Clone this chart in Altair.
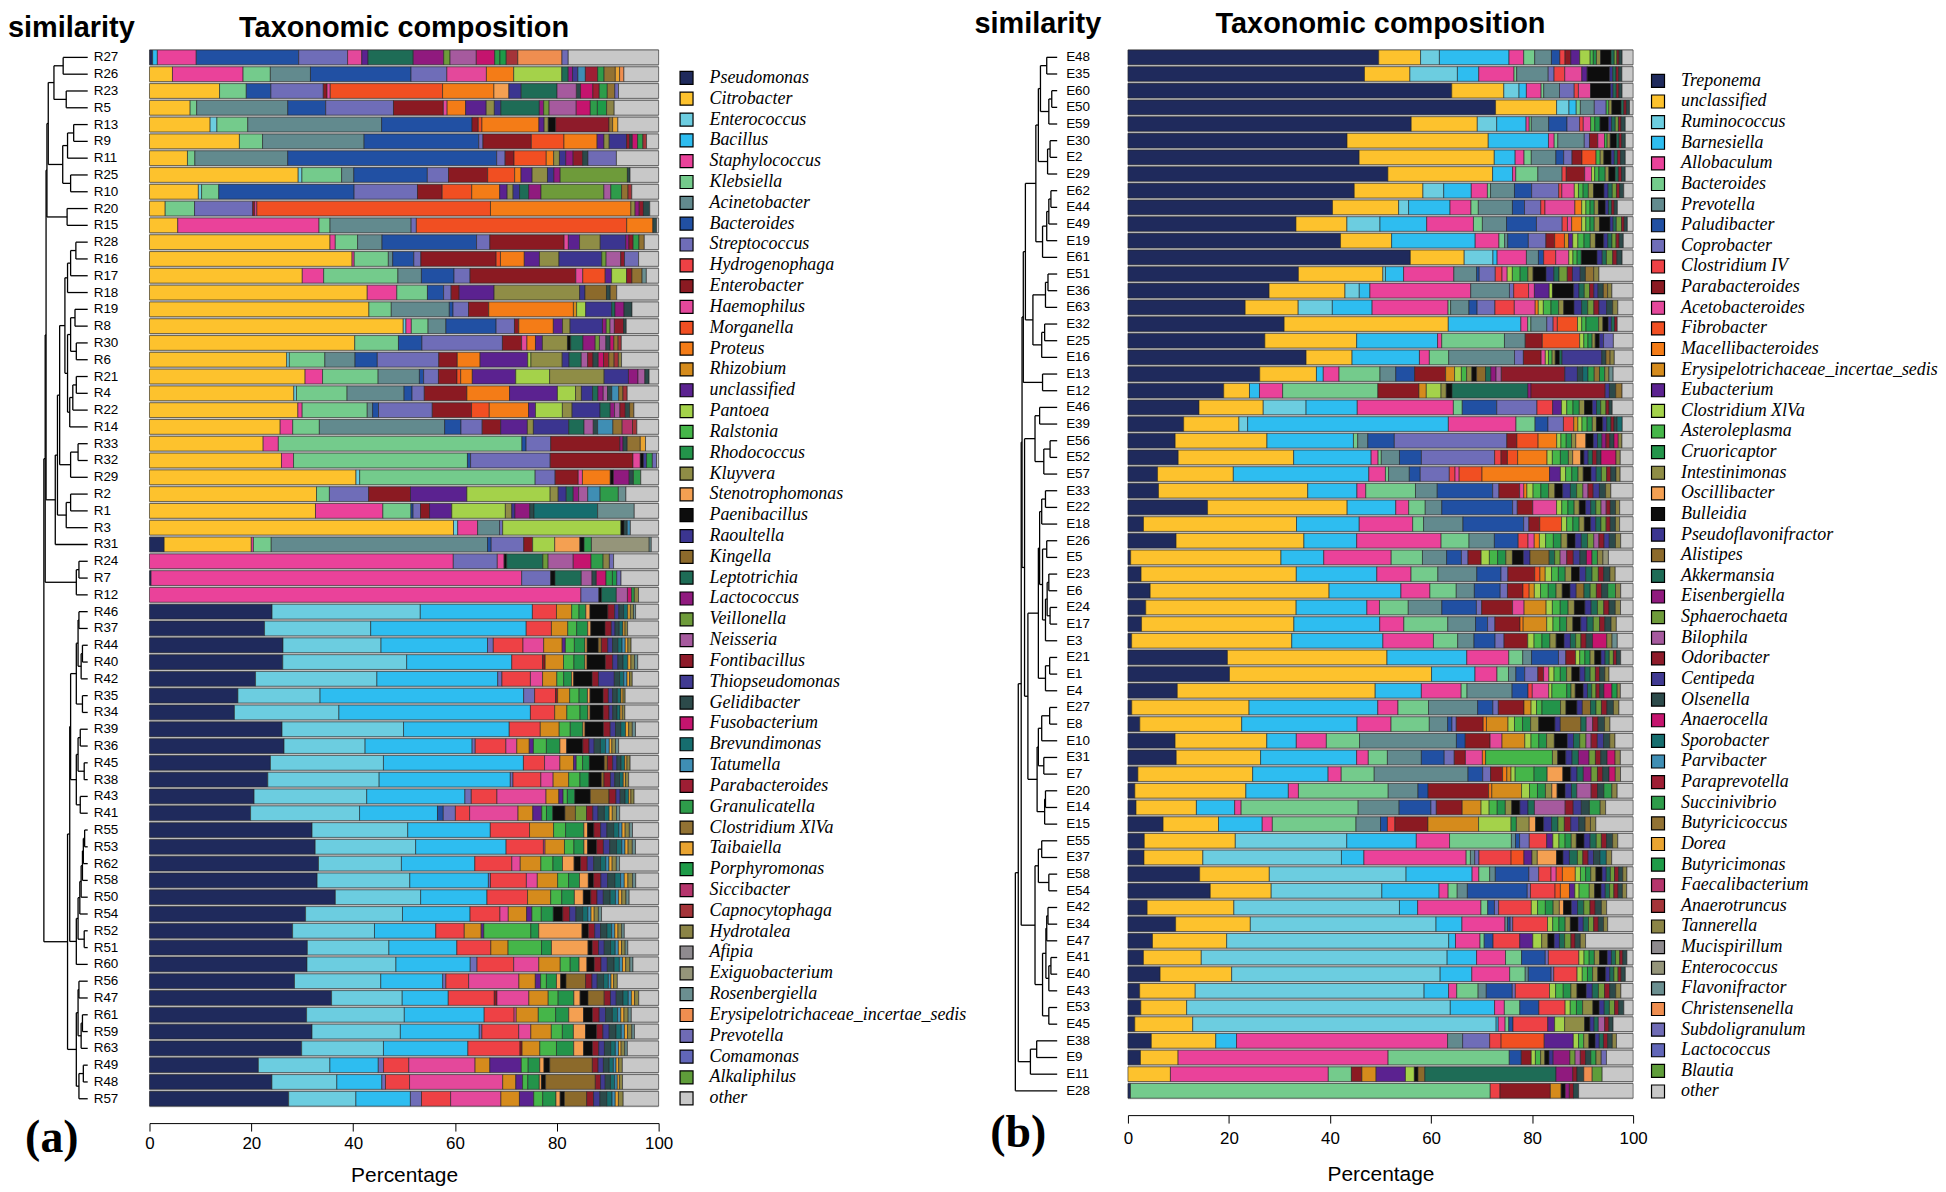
import altair as alt
import pandas as pd

# ---------------- palette shared by both legends (position-based) ----------------
palette = ["#1f2a5c", "#fdc22d", "#6ccde0", "#2ebdf0", "#ea429a", "#74cb8c", "#628a8e", "#2150a3",
           "#6f6db8", "#ee4145", "#8b1a22", "#e4489b", "#f14f22", "#f47c17", "#d58b1c", "#5b2290",
           "#a4d24a", "#45b649", "#23944a", "#8f8d46", "#f4a052", "#0d0d0d", "#3b3590", "#8c6a2b",
           "#1e6c56", "#901a7e", "#6e9b3a", "#a65a9e", "#8e1b2a", "#403a92", "#2c4a4a", "#c5146e",
           "#166d6e", "#3f8eb4", "#9e1e34", "#2e9c4a", "#927233", "#e9a431", "#1e9b48", "#b5356c",
           "#a43439", "#8b8446", "#8e8a8e", "#95957a", "#6b8f90", "#ef8e50", "#6f6bb5", "#6166b8",
           "#5f9d3a", "#c8c8c8"]

# ---------------- panel (a) ----------------
taxa_a = ["Pseudomonas", "Citrobacter", "Enterococcus", "Bacillus", "Staphylococcus", "Klebsiella",
          "Acinetobacter", "Bacteroides", "Streptococcus", "Hydrogenophaga", "Enterobacter", "Haemophilus",
          "Morganella", "Proteus", "Rhizobium", "unclassified", "Pantoea", "Ralstonia", "Rhodococcus",
          "Kluyvera", "Stenotrophomonas", "Paenibacillus", "Raoultella", "Kingella", "Leptotrichia",
          "Lactococcus", "Veillonella", "Neisseria", "Fontibacillus", "Thiopseudomonas", "Gelidibacter",
          "Fusobacterium", "Brevundimonas", "Tatumella", "Parabacteroides", "Granulicatella",
          "Clostridium XlVa", "Taibaiella", "Porphyromonas", "Siccibacter", "Capnocytophaga", "Hydrotalea",
          "Afipia", "Exiguobacterium", "Rosenbergiella", "Erysipelotrichaceae_incertae_sedis", "Prevotella",
          "Comamonas", "Alkaliphilus", "other"]

samples_a = ["R27", "R26", "R23", "R5", "R13", "R9", "R11", "R25", "R10", "R20", "R15", "R28", "R16", "R17",
             "R18", "R19", "R8", "R30", "R6", "R21", "R4", "R22", "R14", "R33", "R32", "R29", "R2", "R1", "R3",
             "R31", "R24", "R7", "R12", "R46", "R37", "R44", "R40", "R42", "R35", "R34", "R39", "R36", "R45",
             "R38", "R43", "R41", "R55", "R53", "R62", "R58", "R50", "R54", "R52", "R51", "R60", "R56", "R47",
             "R61", "R59", "R63", "R49", "R48", "R57"]

comp_a = {
    "R27": {0: 0.6, 3: 0.9, 4: 7.4, 7: 19.5, 8: 9.3, 11: 2.7, 15: 1.2, 24: 8.6, 25: 5.8, 26: 1.2, 27: 5.0, 31: 3.5, 35: 1.0, 38: 1.2, 40: 2.2, 45: 8.4, 46: 1.2, 49: 17.2},
    "R26": {1: 4.3, 4: 13.2, 5: 5.1, 6: 7.5, 7: 18.8, 8: 6.7, 11: 7.4, 13: 5.1, 16: 9.0, 24: 1.2, 25: 0.8, 29: 1.0, 33: 1.4, 34: 2.3, 35: 1.2, 36: 2.1, 37: 0.8, 45: 0.8, 49: 6.5},
    "R23": {1: 13.1, 5: 5.0, 7: 4.6, 8: 9.8, 10: 0.7, 11: 0.6, 12: 21.0, 13: 9.6, 20: 2.8, 22: 2.3, 24: 6.7, 30: 0.8, 27: 3.6, 31: 2.3, 34: 1.2, 35: 1.5, 36: 1.4, 46: 0.7, 49: 7.5},
    "R5": {1: 7.5, 5: 1.2, 6: 16.8, 7: 7.0, 8: 12.5, 10: 9.2, 11: 0.7, 13: 3.4, 15: 3.8, 19: 1.5, 22: 1.2, 24: 7.1, 25: 0.8, 26: 1.0, 27: 5.0, 31: 2.6, 35: 1.3, 38: 1.7, 41: 1.4, 49: 8.2},
    "R13": {1: 11.6, 2: 1.3, 5: 5.9, 6: 25.6, 7: 17.3, 10: 1.2, 12: 0.7, 13: 10.9, 15: 1.0, 19: 0.8, 21: 1.4, 28: 10.2, 36: 0.7, 37: 1.0, 49: 7.8},
    "R9": {1: 17.1, 5: 4.4, 6: 19.3, 7: 21.8, 8: 0.8, 10: 9.2, 12: 6.2, 13: 6.3, 15: 1.3, 19: 1.0, 22: 3.3, 28: 0.6, 30: 0.5, 31: 1.0, 35: 1.0, 40: 0.7, 49: 2.3},
    "R11": {1: 7.2, 5: 1.4, 6: 17.6, 7: 39.6, 8: 1.6, 10: 1.7, 12: 6.1, 13: 1.4, 19: 1.1, 22: 1.2, 25: 1.4, 28: 1.8, 30: 1.0, 46: 5.4, 49: 8.0},
    "R25": {1: 28.1, 2: 0.7, 5: 7.5, 6: 2.3, 7: 13.9, 8: 4.0, 10: 7.4, 12: 5.1, 13: 1.2, 15: 2.1, 19: 2.9, 22: 1.2, 25: 1.2, 26: 12.7, 30: 0.5, 49: 5.4},
    "R10": {1: 9.1, 2: 0.6, 5: 3.2, 7: 25.2, 8: 11.8, 10: 4.6, 12: 5.5, 13: 5.2, 15: 1.4, 19: 1.1, 22: 1.2, 24: 1.7, 25: 2.3, 26: 11.7, 27: 1.3, 35: 2.0, 36: 1.2, 40: 0.7, 49: 5.0},
    "R20": {1: 3.0, 5: 5.6, 8: 11.1, 10: 0.4, 11: 0.4, 12: 44.6, 13: 26.8, 19: 0.8, 25: 0.8, 28: 0.8, 30: 1.2, 49: 1.7},
    "R15": {1: 5.4, 4: 27.0, 5: 2.1, 6: 15.5, 8: 1.0, 12: 40.2, 13: 5.0, 30: 0.7, 49: 0.4},
    "R28": {1: 34.0, 4: 1.0, 5: 4.2, 6: 4.6, 7: 17.8, 8: 2.5, 10: 14.0, 11: 0.8, 15: 2.1, 19: 3.9, 22: 4.8, 25: 0.6, 28: 0.8, 35: 1.1, 36: 1.0, 49: 2.7},
    "R16": {1: 37.4, 4: 0.4, 5: 6.3, 6: 0.8, 7: 3.9, 8: 1.3, 10: 13.9, 12: 0.8, 13: 4.4, 15: 2.8, 19: 3.6, 22: 7.9, 26: 0.8, 27: 2.7, 28: 0.7, 46: 2.6, 49: 3.7},
    "R17": {1: 28.6, 4: 4.0, 5: 13.9, 6: 4.4, 7: 6.1, 8: 3.0, 10: 19.8, 11: 1.3, 12: 4.2, 15: 1.2, 16: 2.8, 28: 1.0, 36: 1.9, 44: 0.8, 49: 2.3},
    "R18": {1: 40.5, 4: 5.5, 5: 5.7, 7: 3.0, 8: 1.4, 10: 1.5, 15: 6.5, 19: 15.9, 22: 1.0, 23: 4.0, 30: 0.7, 36: 1.2, 49: 7.8},
    "R19": {1: 41.2, 5: 4.2, 6: 10.9, 7: 0.7, 8: 2.9, 10: 3.8, 13: 15.9, 14: 0.6, 16: 1.7, 22: 4.9, 24: 0.6, 25: 1.7, 30: 1.5, 49: 5.0},
    "R8": {1: 47.0, 2: 0.5, 4: 1.0, 5: 3.1, 6: 3.3, 7: 9.3, 8: 3.4, 10: 0.8, 13: 6.4, 15: 1.7, 19: 1.4, 22: 6.0, 25: 0.7, 26: 0.7, 27: 0.8, 28: 1.7, 30: 0.5, 49: 6.0},
    "R30": {1: 38.5, 5: 8.2, 7: 4.4, 8: 15.1, 10: 3.6, 11: 1.0, 13: 1.6, 15: 1.3, 19: 4.7, 21: 0.6, 24: 2.3, 25: 2.3, 26: 0.8, 27: 1.2, 30: 0.8, 31: 0.7, 36: 0.8, 40: 0.6, 49: 7.0},
    "R6": {1: 25.9, 2: 0.5, 5: 6.7, 6: 5.7, 7: 4.2, 8: 11.6, 10: 3.5, 13: 4.3, 15: 9.0, 16: 0.6, 19: 5.9, 22: 1.3, 24: 2.3, 27: 1.2, 28: 1.0, 30: 1.0, 31: 1.0, 34: 1.0, 36: 1.0, 40: 0.8, 41: 0.6, 49: 7.0},
    "R21": {1: 29.4, 4: 3.3, 5: 10.5, 6: 7.8, 7: 0.8, 8: 2.8, 10: 3.5, 12: 0.7, 13: 2.2, 15: 8.2, 16: 6.4, 19: 10.3, 22: 4.6, 25: 1.8, 27: 1.3, 30: 0.8, 49: 1.8},
    "R4": {1: 27.1, 2: 0.5, 5: 9.5, 6: 10.7, 7: 1.5, 8: 2.3, 10: 8.0, 13: 8.0, 15: 9.0, 16: 3.4, 19: 1.1, 22: 2.1, 24: 1.0, 25: 1.0, 27: 0.8, 30: 0.8, 33: 1.3, 36: 0.8, 40: 0.8, 49: 5.9},
    "R22": {1: 27.6, 4: 0.8, 5: 12.1, 6: 1.0, 7: 1.1, 8: 10.0, 10: 7.3, 12: 3.3, 13: 7.3, 15: 1.3, 16: 5.0, 19: 1.8, 22: 5.2, 24: 1.9, 25: 0.8, 27: 1.0, 28: 1.0, 30: 0.8, 36: 0.8, 49: 4.6},
    "R14": {1: 24.0, 4: 2.3, 5: 4.9, 6: 23.0, 7: 3.0, 8: 3.9, 10: 3.4, 15: 4.9, 19: 1.1, 22: 6.5, 24: 2.8, 27: 1.7, 30: 0.8, 33: 2.8, 36: 1.7, 39: 1.9, 40: 0.8, 49: 4.0},
    "R33": {1: 21.7, 4: 2.9, 5: 46.5, 7: 0.8, 8: 4.7, 10: 13.2, 25: 0.6, 30: 0.8, 36: 2.5, 37: 1.0, 49: 2.5},
    "R32": {1: 25.2, 4: 2.3, 5: 33.2, 7: 0.6, 8: 15.2, 10: 15.8, 11: 1.4, 21: 0.6, 29: 0.6, 35: 1.1, 46: 0.8, 49: 0.4},
    "R29": {1: 39.3, 2: 0.7, 5: 33.4, 8: 3.8, 10: 4.4, 11: 0.8, 13: 5.3, 21: 0.6, 25: 3.0, 30: 0.8, 35: 1.4, 49: 3.4},
    "R2": {1: 31.1, 5: 2.4, 8: 7.3, 10: 7.8, 15: 10.5, 16: 15.5, 19: 1.5, 22: 1.5, 24: 1.3, 25: 1.0, 27: 1.7, 33: 2.3, 35: 3.4, 44: 1.4, 49: 6.1},
    "R1": {1: 31.3, 4: 12.7, 5: 5.3, 7: 0.4, 8: 1.4, 10: 1.7, 15: 4.2, 16: 10.1, 19: 1.2, 22: 0.6, 25: 2.8, 30: 0.8, 32: 12.0, 44: 6.9, 49: 4.6},
    "R3": {1: 58.1, 2: 0.8, 4: 3.8, 6: 4.2, 8: 0.6, 16: 22.6, 21: 0.6, 30: 0.6, 33: 0.6, 49: 5.4},
    "R31": {0: 2.8, 1: 16.6, 4: 0.4, 5: 3.4, 6: 41.2, 7: 0.7, 8: 6.2, 10: 1.7, 16: 4.2, 20: 4.8, 21: 0.8, 35: 1.4, 43: 11.0, 44: 0.4, 49: 1.4},
    "R24": {4: 58.0, 8: 8.4, 11: 1.3, 21: 0.5, 24: 6.9, 26: 1.0, 27: 4.8, 31: 3.4, 35: 2.3, 41: 1.2, 46: 0.8, 49: 8.6},
    "R7": {0: 0.3, 4: 69.0, 8: 5.4, 21: 0.8, 24: 4.9, 27: 2.0, 30: 0.8, 31: 1.8, 35: 1.2, 38: 0.8, 46: 0.8, 49: 7.0},
    "R12": {4: 81.6, 8: 3.4, 21: 0.5, 24: 2.8, 27: 2.1, 31: 0.8, 35: 0.5, 41: 0.8, 49: 3.8},
    "R46": {0: 23.4, 2: 28.3, 3: 21.4, 9: 4.6, 14: 2.9, 17: 1.4, 18: 1.3, 20: 0.8, 21: 3.4, 28: 1.3, 29: 0.8, 30: 0.9, 32: 0.8, 37: 0.5, 41: 0.6, 44: 0.4, 49: 4.4},
    "R37": {0: 21.9, 2: 20.2, 3: 29.6, 9: 4.8, 14: 3.1, 17: 1.7, 18: 2.1, 20: 0.6, 21: 2.7, 28: 1.2, 29: 0.7, 30: 0.8, 32: 0.7, 37: 0.4, 41: 0.5, 49: 5.9},
    "R44": {0: 25.2, 2: 18.5, 3: 20.1, 8: 1.1, 9: 5.6, 11: 3.9, 14: 3.5, 15: 0.6, 17: 1.7, 18: 2.0, 20: 0.4, 21: 2.1, 23: 0.6, 28: 1.2, 29: 0.9, 30: 1.0, 32: 0.8, 33: 0.6, 37: 0.5, 41: 0.6, 49: 5.2},
    "R40": {0: 25.5, 2: 23.7, 3: 20.1, 9: 5.9, 10: 0.5, 14: 3.5, 17: 2.0, 18: 2.1, 20: 0.4, 21: 3.5, 28: 1.4, 29: 1.0, 30: 1.0, 32: 0.9, 37: 0.6, 41: 0.7, 44: 0.6, 49: 4.0},
    "R42": {0: 20.1, 2: 23.0, 3: 22.9, 8: 0.8, 9: 5.4, 11: 2.3, 14: 2.7, 17: 1.3, 18: 1.5, 20: 0.4, 21: 3.5, 28: 1.2, 29: 3.0, 30: 1.0, 32: 0.8, 33: 0.6, 37: 0.5, 41: 0.5, 49: 5.0},
    "R35": {0: 16.9, 2: 15.7, 3: 38.9, 8: 2.1, 9: 4.0, 10: 0.4, 14: 2.3, 17: 1.8, 18: 1.6, 20: 0.5, 21: 2.5, 28: 1.0, 29: 0.8, 30: 0.9, 32: 0.7, 37: 0.4, 41: 0.4, 49: 6.4},
    "R34": {0: 16.1, 2: 19.8, 3: 36.3, 9: 4.6, 14: 2.3, 17: 2.5, 18: 1.5, 20: 0.4, 21: 2.5, 28: 1.1, 29: 0.7, 30: 0.8, 32: 0.6, 37: 0.4, 41: 0.5, 49: 6.4},
    "R39": {0: 25.2, 2: 23.1, 3: 20.1, 9: 5.9, 14: 3.6, 17: 2.1, 18: 2.4, 20: 0.4, 21: 3.5, 28: 1.3, 29: 1.0, 30: 1.0, 32: 0.9, 37: 0.6, 41: 0.7, 44: 0.6, 49: 4.4},
    "R36": {0: 25.9, 2: 15.6, 3: 20.6, 8: 0.6, 9: 5.9, 11: 2.1, 14: 2.4, 15: 0.8, 17: 2.5, 18: 2.6, 20: 1.3, 21: 3.1, 28: 1.2, 29: 1.0, 30: 1.2, 32: 1.0, 33: 0.7, 37: 0.5, 41: 0.7, 44: 0.6, 49: 7.7},
    "R45": {0: 22.9, 2: 21.4, 3: 26.5, 9: 4.0, 11: 2.9, 14: 2.6, 15: 0.5, 17: 1.2, 18: 1.3, 21: 2.8, 23: 0.6, 28: 1.0, 29: 0.8, 30: 0.8, 32: 0.7, 37: 0.4, 41: 0.6, 49: 5.4},
    "R38": {0: 22.1, 2: 20.8, 3: 24.5, 8: 0.5, 9: 5.2, 11: 2.3, 14: 2.9, 17: 2.1, 18: 1.7, 21: 2.3, 23: 0.5, 28: 1.2, 29: 0.8, 30: 0.9, 32: 0.7, 37: 0.4, 41: 0.6, 49: 5.6},
    "R43": {0: 19.6, 2: 21.1, 3: 18.4, 8: 1.2, 9: 4.8, 11: 9.2, 14: 2.4, 15: 0.8, 17: 0.8, 18: 1.4, 21: 2.9, 23: 3.5, 28: 1.3, 29: 0.8, 30: 0.9, 32: 0.7, 37: 0.4, 41: 0.6, 49: 4.6},
    "R41": {0: 19.2, 2: 20.7, 3: 14.8, 7: 1.1, 8: 2.3, 9: 2.7, 11: 9.2, 14: 2.8, 15: 1.7, 17: 0.9, 18: 1.2, 21: 2.3, 23: 2.0, 26: 2.1, 28: 1.2, 29: 1.0, 30: 1.2, 32: 0.9, 37: 0.6, 41: 0.8, 44: 0.6, 49: 7.4},
    "R55": {0: 31.1, 2: 18.3, 3: 15.8, 9: 7.5, 14: 4.6, 17: 2.3, 18: 3.5, 20: 0.7, 21: 1.2, 28: 1.3, 29: 1.2, 30: 1.3, 32: 1.0, 33: 0.6, 37: 0.6, 41: 0.8, 44: 0.6, 49: 5.0},
    "R53": {0: 31.5, 2: 19.1, 3: 17.2, 9: 7.1, 11: 0.3, 14: 3.7, 17: 1.8, 18: 1.9, 20: 0.7, 21: 1.7, 28: 1.3, 29: 1.2, 30: 1.3, 32: 1.0, 33: 0.6, 37: 0.6, 41: 0.8, 44: 0.6, 49: 4.4},
    "R62": {0: 32.0, 2: 15.7, 3: 13.9, 9: 7.0, 11: 1.6, 14: 3.9, 17: 2.3, 18: 1.8, 20: 2.2, 21: 1.2, 28: 1.3, 29: 1.2, 30: 1.3, 32: 1.0, 33: 0.6, 37: 0.6, 41: 0.8, 44: 0.6, 49: 7.4},
    "R58": {0: 32.2, 2: 17.8, 3: 15.1, 8: 0.4, 9: 6.9, 11: 2.1, 14: 3.9, 17: 2.1, 18: 2.1, 20: 1.7, 21: 1.0, 28: 1.4, 29: 1.3, 30: 1.4, 32: 1.1, 33: 0.7, 37: 0.7, 41: 0.9, 44: 0.6, 49: 4.4},
    "R50": {0: 35.3, 2: 16.2, 3: 12.6, 9: 7.7, 14: 4.4, 17: 2.1, 18: 2.4, 20: 1.7, 21: 1.4, 28: 1.2, 29: 1.2, 30: 1.3, 32: 1.0, 33: 0.6, 37: 0.6, 41: 0.8, 44: 0.6, 49: 5.6},
    "R54": {0: 29.8, 2: 18.5, 3: 12.9, 9: 5.7, 11: 1.6, 14: 3.5, 15: 1.0, 17: 1.8, 18: 2.3, 21: 1.8, 28: 1.3, 29: 1.2, 30: 1.3, 32: 1.0, 33: 0.6, 37: 0.6, 41: 0.8, 44: 0.6, 49: 10.9},
    "R52": {0: 27.1, 2: 15.5, 3: 11.6, 9: 5.4, 14: 3.2, 15: 0.5, 17: 8.9, 18: 1.5, 20: 8.2, 21: 1.2, 28: 1.2, 29: 1.1, 30: 1.2, 32: 0.9, 33: 0.6, 37: 0.6, 41: 0.7, 44: 0.5, 49: 6.5},
    "R51": {0: 30.2, 2: 15.6, 3: 13.0, 9: 6.5, 14: 3.3, 17: 6.4, 18: 1.9, 20: 7.0, 21: 0.8, 28: 1.2, 29: 1.1, 30: 1.2, 32: 0.9, 33: 0.6, 37: 0.6, 41: 0.7, 44: 0.5, 49: 5.9},
    "R60": {0: 30.1, 2: 17.0, 3: 14.2, 8: 1.3, 9: 7.0, 11: 4.8, 14: 4.1, 17: 1.9, 18: 1.7, 20: 1.5, 21: 1.4, 28: 1.3, 29: 1.2, 30: 1.3, 32: 1.0, 33: 0.6, 37: 0.6, 41: 0.8, 44: 0.6, 49: 4.9},
    "R56": {0: 27.4, 2: 16.3, 3: 11.7, 8: 0.6, 9: 4.3, 11: 9.5, 14: 3.1, 15: 1.0, 17: 1.1, 18: 1.9, 20: 0.8, 21: 1.0, 23: 3.7, 28: 1.2, 29: 1.0, 30: 1.2, 32: 0.9, 33: 0.5, 37: 0.5, 41: 0.7, 49: 7.8},
    "R47": {0: 34.8, 2: 13.5, 3: 8.8, 9: 8.8, 10: 0.5, 11: 6.1, 14: 3.7, 17: 1.9, 18: 3.0, 20: 1.2, 21: 1.5, 23: 3.1, 28: 1.2, 29: 1.1, 30: 1.3, 32: 1.0, 33: 0.6, 37: 0.6, 41: 0.8, 49: 3.8},
    "R61": {0: 29.9, 2: 18.6, 3: 15.2, 9: 5.7, 11: 0.4, 14: 4.2, 17: 3.3, 18: 2.5, 20: 2.8, 21: 1.7, 28: 1.3, 29: 1.2, 30: 1.3, 32: 1.0, 33: 0.6, 37: 0.6, 41: 0.8, 44: 0.6, 49: 5.2},
    "R59": {0: 30.9, 2: 16.8, 3: 15.0, 8: 0.5, 9: 7.0, 11: 2.3, 14: 3.9, 17: 2.1, 18: 2.1, 20: 2.3, 21: 2.1, 28: 1.2, 29: 1.2, 30: 1.3, 32: 1.0, 33: 0.6, 37: 0.6, 41: 0.8, 44: 0.5, 49: 4.6},
    "R63": {0: 29.2, 2: 15.7, 3: 16.2, 9: 10.0, 10: 0.4, 14: 3.4, 17: 3.2, 18: 3.3, 20: 1.9, 21: 1.7, 28: 1.2, 29: 1.1, 30: 1.2, 32: 0.9, 33: 0.6, 37: 0.5, 41: 0.7, 44: 0.5, 49: 6.0},
    "R49": {0: 20.7, 2: 13.6, 3: 9.2, 8: 1.0, 9: 4.8, 11: 12.6, 14: 2.8, 15: 6.0, 17: 1.3, 18: 2.2, 20: 0.8, 21: 1.1, 23: 8.1, 28: 1.1, 29: 1.0, 30: 1.1, 32: 0.8, 33: 0.5, 37: 0.5, 41: 0.7, 49: 6.9},
    "R48": {0: 23.4, 2: 12.4, 3: 8.6, 8: 0.7, 9: 4.6, 11: 17.8, 14: 2.5, 15: 1.3, 17: 1.0, 18: 2.2, 20: 0.4, 21: 0.8, 23: 9.5, 28: 1.0, 29: 0.9, 30: 1.0, 32: 0.8, 33: 0.5, 37: 0.4, 41: 0.6, 49: 6.9},
    "R57": {0: 26.3, 2: 12.7, 3: 10.3, 8: 2.1, 9: 5.5, 11: 9.5, 14: 3.5, 15: 2.7, 17: 1.7, 18: 2.5, 20: 0.8, 21: 0.8, 23: 4.2, 28: 1.3, 29: 1.2, 30: 1.3, 32: 1.0, 33: 0.6, 37: 0.6, 41: 0.9, 49: 6.7},
}

# dendrogram (a): (child, child, merge height, node name); height 0 = leaves, 1 = root
merges_a = [
    ("R27", "R26", 0.56, "a1"), ("R23", "R5", 0.49, "a2"), ("a1", "a2", 0.77, "a3"),
    ("R13", "R9", 0.32, "a4"), ("a4", "R11", 0.46, "a5"), ("R25", "R10", 0.39, "a6"),
    ("a5", "a6", 0.57, "a7"), ("a3", "a7", 0.90, "a8"), ("R20", "R15", 0.47, "a9"),
    ("a8", "a9", 0.93, "a10"), ("R28", "R16", 0.27, "a11"), ("a11", "R17", 0.39, "a12"),
    ("a12", "R18", 0.46, "a13"), ("R19", "R8", 0.29, "a14"), ("R30", "R6", 0.26, "a15"),
    ("a14", "a15", 0.39, "a16"), ("R21", "R4", 0.26, "a17"), ("a17", "R22", 0.34, "a18"),
    ("a18", "R14", 0.41, "a19"), ("a16", "a19", 0.46, "a20"), ("a13", "a20", 0.52, "a21"),
    ("R33", "R32", 0.22, "a22"), ("a22", "R29", 0.39, "a23"), ("a21", "a23", 0.64, "a24"),
    ("R2", "R1", 0.39, "a25"), ("a25", "R3", 0.49, "a26"), ("a24", "a26", 0.69, "a27"),
    ("a27", "R31", 0.74, "a28"), ("a10", "a28", 0.95, "a29"), ("R24", "R7", 0.20, "a30"),
    ("a30", "R12", 0.26, "a31"), ("a29", "a31", 0.97, "a32"),
    ("R46", "R37", 0.20, "p1"), ("R44", "R40", 0.12, "p2"), ("p2", "R42", 0.15, "p3"),
    ("p1", "p3", 0.22, "p4"), ("R35", "R34", 0.12, "p5"), ("p4", "p5", 0.26, "p6"),
    ("R39", "R36", 0.17, "p7"), ("R45", "R38", 0.08, "p8"), ("p7", "p8", 0.22, "p9"),
    ("R43", "R41", 0.17, "p10"), ("p9", "p10", 0.26, "p11"), ("p6", "p11", 0.39, "p12"),
    ("R55", "R53", 0.07, "p13"), ("p13", "R62", 0.10, "p14"), ("p14", "R58", 0.12, "p15"),
    ("p15", "R50", 0.15, "p16"), ("p16", "R54", 0.18, "p17"), ("R52", "R51", 0.08, "p18"),
    ("p17", "p18", 0.22, "p19"), ("p19", "R60", 0.26, "p20"), ("R56", "R47", 0.20, "p21"),
    ("R61", "R59", 0.12, "p22"), ("p22", "R63", 0.15, "p23"), ("p21", "p23", 0.22, "p24"),
    ("R49", "R48", 0.10, "p25"), ("p25", "R57", 0.20, "p26"), ("p24", "p26", 0.26, "p27"),
    ("p12", "p20", 0.41, "q1"), ("q1", "p27", 0.46, "p29"), ("a32", "p29", 1.00, "root"),
]

# ---------------- panel (b) ----------------
taxa_b = ["Treponema", "unclassified", "Ruminococcus", "Barnesiella", "Allobaculum", "Bacteroides",
          "Prevotella", "Paludibacter", "Coprobacter", "Clostridium IV", "Parabacteroides",
          "Acetobacteroides", "Fibrobacter", "Macellibacteroides", "Erysipelotrichaceae_incertae_sedis",
          "Eubacterium", "Clostridium XlVa", "Asteroleplasma", "Cruoricaptor", "Intestinimonas",
          "Oscillibacter", "Bulleidia", "Pseudoflavonifractor", "Alistipes", "Akkermansia", "Eisenbergiella",
          "Sphaerochaeta", "Bilophila", "Odoribacter", "Centipeda", "Olsenella", "Anaerocella", "Sporobacter",
          "Parvibacter", "Paraprevotella", "Succinivibrio", "Butyricicoccus", "Dorea", "Butyricimonas",
          "Faecalibacterium", "Anaerotruncus", "Tannerella", "Mucispirillum", "Enterococcus",
          "Flavonifractor", "Christensenella", "Subdoligranulum", "Lactococcus", "Blautia", "other"]

samples_b = ["E48", "E35", "E60", "E50", "E59", "E30", "E2", "E29", "E62", "E44", "E49", "E19", "E61", "E51",
             "E36", "E63", "E32", "E25", "E16", "E13", "E12", "E46", "E39", "E56", "E52", "E57", "E33", "E22",
             "E18", "E26", "E5", "E23", "E6", "E24", "E17", "E3", "E21", "E1", "E4", "E27", "E8", "E10", "E31",
             "E7", "E20", "E14", "E15", "E55", "E37", "E58", "E54", "E42", "E34", "E47", "E41", "E40", "E43",
             "E53", "E45", "E38", "E9", "E11", "E28"]

comp_b = {
    "E48": {0: 47.9, 1: 8.0, 2: 3.6, 3: 13.3, 4: 2.8, 5: 2.1, 6: 3.2, 7: 1.6, 9: 1.0, 10: 1.1, 15: 1.7, 16: 2.0, 17: 0.6, 18: 0.6, 19: 0.8, 21: 2.0, 24: 0.6, 26: 0.5, 28: 0.4, 30: 0.6, 49: 2.1},
    "E35": {0: 44.3, 1: 8.5, 2: 8.9, 3: 4.0, 4: 6.6, 5: 0.5, 6: 5.9, 8: 1.1, 9: 2.0, 11: 3.2, 15: 1.0, 21: 4.2, 22: 0.6, 24: 0.6, 28: 0.5, 30: 0.6, 49: 2.1},
    "E60": {0: 61.6, 1: 9.9, 2: 2.9, 3: 1.4, 4: 2.8, 5: 0.5, 6: 3.0, 8: 2.8, 9: 0.8, 11: 2.3, 21: 3.8, 22: 0.5, 24: 0.6, 28: 0.5, 30: 0.6, 49: 2.1},
    "E50": {0: 71.1, 1: 11.8, 2: 2.4, 3: 1.4, 5: 0.8, 6: 2.7, 8: 2.3, 17: 0.5, 19: 0.6, 21: 1.8, 24: 0.5, 28: 0.5, 30: 0.6, 49: 0.7},
    "E59": {0: 54.0, 1: 12.6, 2: 3.7, 3: 5.6, 4: 0.6, 5: 0.4, 6: 3.3, 7: 3.5, 8: 2.4, 9: 0.7, 11: 1.4, 17: 0.8, 18: 1.0, 21: 1.6, 22: 0.6, 24: 0.7, 26: 0.6, 28: 0.5, 30: 0.8, 49: 1.5},
    "E30": {0: 42.2, 1: 27.2, 3: 11.6, 4: 1.1, 5: 0.7, 6: 5.1, 8: 1.0, 10: 1.6, 11: 1.3, 17: 0.5, 19: 0.6, 21: 1.2, 24: 0.5, 28: 0.5, 30: 0.7, 49: 1.5},
    "E2": {0: 44.3, 1: 25.9, 3: 4.0, 4: 1.7, 5: 1.4, 6: 4.7, 7: 1.5, 8: 1.6, 10: 1.9, 12: 2.7, 17: 0.8, 19: 0.7, 21: 1.4, 22: 0.6, 24: 0.6, 28: 0.6, 30: 0.9, 49: 1.5},
    "E29": {0: 49.4, 1: 19.9, 3: 3.8, 4: 0.6, 5: 4.2, 6: 4.6, 9: 0.8, 10: 3.5, 11: 1.3, 16: 0.6, 17: 0.8, 18: 1.2, 19: 0.7, 21: 1.2, 24: 0.6, 28: 0.6, 30: 0.7, 49: 1.5},
    "E62": {0: 43.5, 1: 13.2, 2: 4.0, 3: 5.3, 4: 3.1, 5: 0.6, 6: 4.6, 7: 3.3, 8: 5.2, 9: 0.6, 11: 2.4, 16: 0.8, 17: 0.9, 18: 1.0, 19: 1.0, 21: 2.0, 22: 0.8, 24: 0.8, 26: 0.8, 28: 0.6, 30: 0.8, 49: 1.8},
    "E44": {0: 39.0, 1: 12.6, 2: 1.9, 3: 7.9, 4: 4.0, 5: 1.4, 6: 6.5, 7: 2.3, 8: 3.1, 9: 0.8, 11: 5.7, 13: 1.3, 16: 0.8, 17: 0.8, 18: 0.8, 19: 0.8, 21: 1.3, 22: 0.6, 24: 0.6, 28: 0.5, 30: 0.6, 49: 3.0},
    "E49": {0: 32.0, 1: 9.7, 2: 6.3, 3: 8.9, 4: 8.9, 5: 1.7, 6: 4.6, 7: 5.7, 8: 4.9, 9: 1.0, 11: 0.8, 13: 1.9, 16: 0.8, 17: 0.8, 18: 0.8, 19: 1.0, 21: 2.0, 22: 0.6, 24: 0.6, 26: 1.0, 28: 0.5, 30: 0.6, 49: 1.1},
    "E19": {0: 41.2, 1: 9.9, 3: 16.2, 4: 4.6, 5: 1.1, 6: 0.6, 7: 4.0, 8: 3.4, 10: 1.7, 12: 1.9, 14: 0.8, 15: 0.8, 16: 1.0, 17: 1.2, 18: 1.2, 19: 1.0, 21: 1.6, 22: 0.8, 24: 0.8, 26: 0.8, 28: 0.6, 30: 0.8, 49: 1.9},
    "E61": {0: 54.0, 1: 10.3, 2: 5.5, 3: 0.8, 4: 5.6, 6: 2.3, 7: 1.0, 9: 2.3, 11: 2.5, 16: 0.8, 17: 0.8, 18: 0.8, 21: 3.0, 22: 1.0, 24: 0.8, 26: 1.2, 28: 0.8, 30: 1.0, 49: 2.1},
    "E51": {0: 32.9, 1: 16.3, 2: 0.5, 3: 3.5, 4: 9.7, 6: 4.4, 7: 0.5, 8: 3.1, 9: 1.3, 11: 1.0, 16: 1.0, 17: 1.5, 18: 1.5, 19: 1.0, 21: 2.5, 22: 1.5, 24: 1.0, 26: 1.6, 28: 1.0, 29: 1.5, 30: 1.0, 36: 1.6, 41: 1.0, 49: 6.6},
    "E36": {0: 26.6, 1: 14.3, 2: 2.7, 3: 2.0, 4: 19.0, 6: 7.3, 8: 0.8, 9: 2.8, 11: 1.1, 15: 2.8, 16: 0.6, 21: 4.0, 22: 1.0, 24: 1.0, 26: 1.0, 28: 0.8, 29: 0.8, 30: 1.0, 36: 0.8, 41: 0.8, 49: 4.0},
    "E63": {0: 23.0, 1: 10.4, 2: 6.7, 3: 7.8, 4: 14.9, 5: 0.5, 6: 3.6, 7: 1.6, 8: 3.5, 9: 3.8, 11: 4.1, 13: 0.6, 16: 1.0, 17: 1.5, 18: 1.5, 19: 1.0, 21: 2.0, 22: 1.5, 24: 1.2, 26: 1.2, 28: 1.0, 29: 1.5, 30: 1.2, 41: 1.0, 49: 3.0},
    "E32": {0: 29.5, 1: 31.0, 3: 13.7, 4: 1.3, 5: 0.6, 6: 3.0, 8: 1.2, 9: 0.8, 12: 3.8, 16: 0.8, 17: 0.8, 18: 2.4, 19: 0.8, 21: 1.0, 22: 0.6, 24: 0.6, 28: 0.5, 49: 3.0},
    "E25": {0: 26.4, 1: 17.7, 3: 15.6, 4: 0.8, 5: 12.1, 6: 4.0, 10: 3.3, 12: 7.2, 16: 0.8, 17: 0.8, 18: 0.8, 19: 0.6, 21: 0.8, 22: 0.8, 46: 1.9, 49: 3.8},
    "E16": {0: 34.1, 1: 8.8, 3: 12.9, 4: 1.9, 5: 3.7, 6: 12.6, 8: 1.7, 10: 3.4, 11: 0.8, 16: 0.6, 17: 0.7, 19: 0.6, 21: 0.8, 24: 0.5, 29: 7.6, 30: 0.8, 36: 0.8, 41: 0.8, 49: 3.6},
    "E13": {0: 25.1, 1: 10.8, 3: 1.3, 4: 3.0, 5: 7.8, 6: 3.0, 7: 3.6, 10: 5.9, 14: 1.7, 16: 1.3, 17: 1.0, 19: 1.0, 21: 0.9, 23: 1.7, 24: 1.0, 25: 1.0, 27: 1.0, 28: 12.1, 29: 2.4, 30: 1.0, 32: 1.0, 35: 1.2, 36: 1.0, 38: 1.0, 41: 0.8, 44: 0.8, 49: 3.8},
    "E12": {0: 18.2, 1: 4.9, 3: 1.9, 4: 4.4, 5: 18.1, 10: 7.8, 14: 1.4, 16: 2.8, 19: 1.0, 21: 1.1, 24: 14.4, 25: 0.6, 28: 14.1, 29: 0.8, 30: 1.2, 36: 1.2, 49: 2.1},
    "E46": {0: 13.6, 1: 12.3, 2: 8.2, 3: 9.8, 4: 18.4, 5: 1.7, 7: 6.6, 8: 7.7, 9: 3.0, 15: 1.7, 16: 1.0, 17: 1.2, 18: 1.2, 19: 1.0, 21: 1.5, 22: 0.8, 24: 0.8, 26: 1.0, 28: 0.6, 30: 0.6, 49: 4.0},
    "E39": {0: 10.8, 1: 10.7, 2: 1.7, 3: 38.9, 4: 13.1, 5: 3.7, 7: 2.5, 8: 3.0, 9: 2.0, 14: 0.8, 16: 0.8, 17: 1.0, 18: 1.0, 19: 0.8, 21: 1.2, 22: 0.8, 24: 0.8, 28: 0.6, 30: 0.6, 32: 1.0, 49: 2.1},
    "E56": {0: 8.9, 1: 17.3, 3: 16.3, 5: 0.8, 6: 1.9, 7: 5.0, 8: 21.2, 10: 1.9, 12: 4.0, 13: 3.5, 16: 0.8, 17: 1.0, 18: 1.0, 19: 0.8, 20: 1.9, 21: 1.4, 22: 0.8, 24: 0.8, 25: 0.8, 28: 0.7, 30: 0.8, 31: 0.8, 41: 0.7, 49: 2.1},
    "E52": {0: 9.4, 1: 21.6, 3: 14.5, 4: 1.3, 5: 0.6, 6: 3.4, 7: 4.1, 8: 13.7, 9: 1.2, 10: 1.2, 12: 1.9, 13: 5.5, 16: 1.0, 17: 1.5, 18: 1.5, 19: 0.8, 20: 1.5, 21: 0.6, 22: 0.8, 24: 0.8, 28: 0.8, 30: 0.8, 31: 2.8, 41: 0.8, 49: 2.4},
    "E57": {0: 5.7, 1: 14.6, 3: 26.1, 4: 3.2, 5: 0.6, 6: 4.0, 7: 2.1, 8: 5.6, 9: 1.1, 11: 0.8, 12: 4.4, 13: 13.0, 15: 2.1, 16: 1.0, 17: 1.2, 18: 1.2, 19: 1.0, 21: 1.5, 22: 1.0, 24: 1.0, 26: 1.0, 28: 0.8, 30: 1.0, 41: 0.8, 49: 2.5},
    "E33": {0: 5.9, 1: 28.8, 3: 9.5, 4: 1.7, 5: 9.6, 6: 4.2, 7: 10.7, 8: 1.2, 10: 4.0, 11: 0.8, 13: 0.6, 16: 1.2, 17: 1.5, 18: 1.5, 19: 1.2, 21: 1.5, 22: 1.5, 24: 1.2, 26: 1.2, 27: 1.0, 28: 1.0, 29: 1.2, 30: 1.2, 41: 1.0, 49: 4.3},
    "E22": {0: 15.4, 1: 27.0, 3: 9.4, 4: 2.5, 5: 3.2, 6: 3.2, 7: 13.7, 8: 0.9, 10: 3.0, 11: 4.6, 16: 1.0, 17: 1.2, 18: 1.2, 19: 1.0, 21: 1.2, 22: 1.0, 24: 1.0, 26: 1.0, 27: 1.0, 28: 0.8, 30: 1.0, 41: 0.8, 49: 2.6},
    "E18": {0: 3.0, 1: 29.5, 3: 12.1, 4: 10.3, 5: 2.1, 6: 7.6, 7: 11.7, 8: 1.0, 10: 2.1, 12: 4.2, 16: 1.0, 17: 1.2, 18: 1.2, 19: 1.0, 21: 1.2, 22: 1.0, 24: 1.0, 26: 1.0, 28: 0.8, 30: 1.0, 41: 0.8, 49: 2.6},
    "E26": {0: 9.3, 1: 24.7, 3: 10.2, 4: 16.3, 5: 5.4, 6: 4.9, 7: 4.6, 9: 1.9, 11: 1.2, 13: 1.0, 16: 1.2, 17: 1.5, 18: 1.5, 19: 1.2, 21: 1.5, 22: 1.2, 24: 1.2, 26: 1.2, 27: 1.0, 28: 1.0, 29: 1.0, 30: 1.2, 41: 1.0, 49: 2.4},
    "E5": {0: 0.5, 1: 27.4, 3: 7.8, 4: 12.3, 5: 5.7, 6: 4.4, 7: 2.7, 8: 1.2, 10: 2.4, 16: 1.5, 17: 1.5, 18: 1.5, 19: 1.2, 21: 2.0, 22: 1.2, 23: 3.5, 24: 1.0, 26: 1.0, 27: 1.2, 28: 1.2, 29: 1.2, 30: 1.2, 31: 1.0, 35: 1.0, 41: 1.0, 43: 1.0, 49: 4.5},
    "E23": {0: 2.5, 1: 29.5, 3: 15.3, 4: 6.5, 5: 5.1, 6: 7.4, 7: 4.6, 8: 1.3, 10: 5.1, 12: 1.0, 14: 1.0, 16: 1.2, 17: 1.3, 18: 1.3, 19: 1.2, 21: 1.5, 22: 1.2, 24: 1.2, 26: 1.2, 28: 1.0, 30: 1.2, 41: 1.0, 49: 3.4},
    "E6": {0: 4.3, 1: 34.6, 3: 13.9, 4: 5.6, 5: 5.1, 6: 3.5, 7: 5.0, 8: 1.4, 10: 3.0, 12: 1.2, 14: 1.0, 16: 1.2, 17: 1.5, 18: 1.5, 19: 1.2, 21: 1.5, 22: 1.2, 23: 1.5, 24: 1.2, 26: 1.2, 28: 1.0, 30: 1.2, 35: 1.5, 41: 1.0, 49: 2.4},
    "E24": {0: 3.4, 1: 28.7, 3: 13.5, 4: 2.4, 5: 5.5, 6: 6.4, 7: 6.6, 8: 1.0, 10: 5.9, 11: 2.2, 14: 4.2, 16: 1.2, 17: 1.5, 18: 1.5, 19: 1.2, 21: 2.0, 22: 1.2, 24: 1.2, 26: 1.2, 28: 1.0, 30: 1.2, 41: 1.0, 49: 2.4},
    "E17": {0: 2.6, 1: 29.1, 3: 16.4, 4: 4.6, 5: 8.4, 6: 5.3, 7: 2.3, 8: 1.4, 10: 4.8, 13: 0.6, 14: 4.5, 16: 1.2, 17: 1.3, 18: 1.3, 19: 1.2, 21: 1.5, 22: 1.2, 24: 1.2, 26: 1.2, 28: 1.0, 30: 1.2, 41: 1.0, 49: 3.2},
    "E3": {0: 0.7, 1: 30.4, 3: 17.3, 4: 9.6, 5: 4.6, 6: 3.1, 7: 4.0, 8: 1.7, 10: 4.5, 16: 1.2, 17: 1.5, 18: 1.5, 19: 1.2, 21: 1.5, 22: 1.2, 24: 1.0, 26: 1.0, 28: 1.0, 30: 1.2, 31: 2.7, 41: 1.0, 44: 1.0, 49: 3.0},
    "E21": {0: 19.2, 1: 30.8, 3: 15.4, 4: 8.1, 5: 2.7, 6: 1.7, 7: 5.2, 8: 1.4, 10: 1.9, 16: 0.8, 17: 1.0, 18: 1.0, 19: 0.9, 21: 1.2, 22: 0.8, 24: 0.8, 26: 0.8, 28: 0.6, 30: 0.8, 49: 2.4},
    "E1": {0: 19.4, 1: 38.6, 3: 8.3, 4: 4.2, 5: 2.2, 6: 1.4, 7: 1.7, 8: 2.5, 10: 1.1, 11: 1.0, 16: 1.0, 17: 1.2, 18: 1.2, 19: 1.0, 21: 1.5, 22: 1.0, 24: 1.0, 26: 1.0, 28: 0.8, 30: 1.0, 41: 0.8, 49: 4.6},
    "E4": {0: 9.3, 1: 37.3, 3: 8.7, 4: 7.5, 5: 1.1, 6: 8.5, 7: 3.0, 9: 0.8, 11: 3.1, 16: 0.6, 17: 2.8, 18: 0.8, 19: 0.8, 21: 1.5, 22: 0.8, 24: 0.8, 26: 0.8, 28: 0.7, 30: 0.8, 31: 1.5, 38: 1.0, 41: 0.6, 49: 2.4},
    "E27": {0: 0.7, 1: 21.5, 3: 23.6, 4: 3.7, 5: 5.6, 6: 9.0, 7: 2.8, 8: 1.0, 10: 4.7, 14: 1.3, 16: 1.0, 17: 1.0, 18: 3.4, 19: 1.0, 21: 2.0, 22: 1.0, 23: 1.5, 24: 1.0, 26: 1.0, 28: 1.0, 30: 1.2, 41: 1.0, 49: 2.6},
    "E8": {0: 2.2, 1: 18.9, 3: 21.4, 4: 6.3, 5: 7.1, 6: 3.4, 7: 0.8, 8: 0.8, 10: 5.0, 13: 0.6, 14: 4.0, 16: 1.2, 17: 1.5, 18: 1.5, 19: 1.5, 21: 3.0, 22: 1.0, 23: 3.8, 24: 1.0, 27: 1.2, 28: 1.0, 30: 1.2, 41: 1.0, 49: 4.3},
    "E10": {0: 9.1, 1: 17.7, 3: 5.7, 4: 5.8, 5: 6.4, 6: 18.7, 7: 1.7, 10: 4.8, 11: 2.3, 14: 4.4, 16: 1.2, 17: 1.5, 18: 1.5, 19: 1.5, 21: 2.5, 22: 1.2, 24: 1.2, 26: 1.2, 27: 1.0, 28: 1.2, 29: 1.2, 30: 1.2, 41: 1.0, 49: 3.5},
    "E31": {0: 9.1, 1: 15.9, 3: 18.1, 4: 2.2, 5: 3.6, 6: 6.4, 7: 4.3, 8: 1.9, 10: 2.1, 11: 3.2, 13: 0.6, 17: 12.6, 19: 1.0, 21: 1.5, 22: 1.2, 24: 1.2, 25: 2.0, 26: 1.2, 28: 1.0, 30: 1.2, 31: 1.5, 41: 1.0, 49: 2.4},
    "E7": {0: 1.9, 1: 21.9, 3: 14.4, 4: 2.5, 5: 6.3, 6: 17.9, 7: 2.8, 8: 1.5, 10: 2.3, 13: 0.8, 14: 0.8, 16: 0.8, 17: 3.6, 18: 2.5, 20: 3.0, 21: 1.5, 22: 1.2, 24: 1.2, 25: 1.5, 26: 1.2, 28: 1.0, 30: 1.2, 31: 1.2, 41: 1.0, 49: 2.4},
    "E20": {0: 1.3, 1: 20.9, 3: 8.0, 4: 1.9, 5: 16.9, 6: 5.6, 7: 1.9, 10: 11.4, 13: 0.6, 14: 5.6, 16: 1.5, 17: 1.5, 18: 1.5, 19: 1.2, 20: 1.0, 21: 1.5, 22: 1.2, 24: 1.0, 27: 2.7, 28: 1.2, 30: 1.2, 35: 1.5, 41: 1.0, 49: 3.0},
    "E14": {0: 1.5, 1: 11.2, 3: 7.1, 4: 1.2, 5: 21.7, 6: 7.6, 7: 5.9, 8: 1.0, 10: 4.8, 14: 3.5, 16: 1.5, 17: 1.5, 18: 1.5, 19: 1.2, 21: 1.5, 22: 1.5, 24: 1.2, 27: 5.7, 28: 1.5, 29: 1.5, 30: 1.5, 35: 2.0, 41: 1.0, 49: 5.1},
    "E15": {0: 6.6, 1: 10.4, 3: 8.2, 4: 1.9, 5: 15.7, 6: 4.6, 7: 1.3, 9: 1.4, 10: 6.2, 14: 9.5, 16: 6.1, 18: 1.0, 19: 2.4, 20: 1.2, 21: 1.5, 22: 1.5, 24: 1.2, 26: 1.2, 28: 1.2, 29: 1.5, 30: 1.2, 36: 1.0, 41: 1.0, 49: 7.0},
    "E55": {0: 3.2, 1: 17.8, 2: 21.8, 3: 13.6, 4: 6.5, 5: 12.1, 6: 0.8, 7: 0.8, 8: 1.9, 9: 3.4, 15: 1.2, 16: 1.2, 17: 1.2, 18: 1.2, 19: 1.0, 21: 1.5, 22: 1.2, 24: 1.2, 26: 1.0, 28: 1.0, 30: 1.2, 41: 1.0, 49: 3.0},
    "E37": {0: 3.0, 1: 11.0, 2: 25.9, 3: 4.2, 4: 19.1, 5: 0.8, 6: 0.8, 8: 0.8, 9: 6.0, 12: 2.4, 15: 1.5, 19: 1.0, 20: 3.6, 21: 1.2, 22: 1.2, 24: 1.5, 26: 1.0, 28: 1.0, 29: 1.0, 30: 1.2, 32: 1.2, 41: 1.0, 49: 4.0},
    "E58": {0: 13.9, 1: 13.5, 2: 26.5, 3: 12.8, 4: 1.3, 5: 2.1, 6: 1.1, 7: 6.5, 8: 1.9, 9: 2.4, 11: 1.0, 12: 1.2, 13: 2.5, 16: 1.0, 17: 1.0, 18: 1.0, 19: 1.0, 21: 1.2, 22: 0.8, 24: 0.8, 26: 0.8, 28: 0.8, 30: 0.8, 41: 0.8, 49: 1.2},
    "E54": {0: 15.4, 1: 11.4, 2: 20.7, 3: 10.7, 4: 1.7, 5: 1.7, 6: 1.9, 7: 11.2, 8: 0.6, 9: 4.6, 12: 1.0, 13: 1.7, 15: 1.0, 16: 0.8, 17: 1.9, 19: 1.0, 21: 1.2, 22: 0.8, 24: 0.8, 26: 0.8, 28: 0.8, 30: 0.8, 41: 0.8, 49: 1.2},
    "E42": {0: 3.7, 1: 16.7, 2: 31.9, 3: 3.5, 4: 12.2, 5: 1.3, 7: 1.3, 8: 0.8, 9: 6.3, 16: 1.2, 17: 1.5, 18: 1.5, 19: 1.2, 20: 0.8, 21: 1.5, 22: 1.2, 24: 1.2, 26: 1.2, 28: 1.0, 30: 1.2, 41: 1.0, 49: 5.1},
    "E34": {0: 9.2, 1: 14.4, 2: 35.8, 3: 5.0, 4: 8.3, 6: 0.5, 7: 0.5, 8: 0.5, 9: 6.7, 16: 1.0, 17: 1.2, 18: 1.2, 19: 1.0, 21: 1.5, 22: 1.0, 24: 1.0, 26: 1.0, 28: 0.9, 30: 1.0, 41: 0.8, 49: 4.9},
    "E47": {0: 4.7, 1: 14.2, 2: 42.5, 3: 1.3, 4: 4.7, 5: 0.8, 7: 1.7, 9: 5.1, 15: 2.5, 16: 1.7, 19: 1.2, 21: 1.2, 22: 1.0, 24: 1.0, 26: 1.2, 28: 0.8, 30: 1.0, 41: 1.0, 49: 9.1},
    "E41": {0: 3.0, 1: 11.2, 2: 47.6, 3: 5.7, 4: 5.6, 5: 3.1, 7: 4.6, 8: 0.6, 9: 5.9, 16: 1.0, 17: 1.0, 18: 1.0, 19: 1.0, 21: 1.5, 22: 0.8, 24: 0.8, 26: 0.8, 28: 0.6, 30: 0.8, 49: 1.2},
    "E40": {0: 6.2, 1: 13.8, 2: 40.2, 3: 6.1, 4: 7.3, 5: 3.0, 6: 0.6, 7: 4.4, 8: 0.5, 9: 4.5, 16: 1.0, 17: 1.0, 18: 1.0, 19: 1.0, 21: 1.5, 22: 0.8, 24: 0.8, 26: 0.8, 28: 0.6, 30: 0.8, 49: 1.5},
    "E43": {0: 2.3, 1: 10.9, 2: 44.9, 3: 4.8, 4: 1.6, 5: 4.2, 6: 1.6, 7: 5.1, 8: 0.6, 9: 6.7, 16: 1.2, 17: 1.5, 18: 1.5, 19: 1.2, 21: 1.8, 22: 1.2, 24: 1.2, 26: 1.2, 28: 1.0, 30: 1.2, 41: 1.0, 49: 2.4},
    "E53": {0: 2.5, 1: 8.9, 2: 51.2, 3: 8.6, 4: 1.9, 5: 3.0, 7: 3.7, 9: 5.1, 16: 1.0, 17: 1.2, 18: 1.2, 19: 2.0, 21: 1.2, 22: 1.0, 24: 1.0, 26: 1.0, 28: 0.8, 30: 1.0, 49: 1.8},
    "E45": {0: 1.3, 1: 11.0, 2: 57.6, 3: 0.4, 4: 1.3, 5: 0.7, 7: 0.8, 9: 6.6, 15: 1.3, 16: 1.9, 19: 3.8, 21: 1.0, 22: 0.8, 24: 0.8, 27: 1.2, 28: 0.8, 30: 0.8, 49: 3.8},
    "E38": {0: 4.5, 1: 12.4, 3: 4.0, 4: 40.6, 6: 2.9, 8: 5.2, 9: 2.2, 12: 8.3, 15: 5.6, 16: 1.0, 17: 1.0, 19: 1.0, 21: 1.2, 22: 0.8, 24: 0.8, 28: 0.8, 30: 0.9, 41: 0.8, 49: 3.2},
    "E9": {0: 2.4, 1: 7.2, 4: 40.2, 5: 23.2, 7: 2.3, 10: 1.9, 16: 0.8, 17: 1.0, 19: 0.8, 21: 0.8, 22: 0.8, 25: 3.2, 26: 1.0, 27: 1.0, 28: 1.0, 30: 1.0, 35: 1.0, 41: 1.0, 46: 1.0, 49: 5.1},
    "E11": {1: 8.1, 4: 30.1, 5: 4.4, 10: 2.0, 14: 2.7, 15: 5.6, 16: 1.7, 21: 0.7, 23: 1.3, 24: 25.0, 25: 3.2, 28: 0.8, 30: 1.3, 45: 1.6, 48: 1.9, 49: 5.9},
    "E28": {0: 0.5, 5: 70.0, 9: 1.9, 10: 9.8, 14: 2.1, 21: 0.8, 25: 0.8, 28: 0.8, 30: 1.0, 49: 10.6},
}

merges_b = [
    ("E48", "E35", 0.25, "b1"), ("E60", "E50", 0.13, "b2"), ("b2", "E59", 0.20, "b3"),
    ("b1", "b3", 0.40, "b4"), ("E30", "E2", 0.17, "b5"), ("b5", "E29", 0.23, "b6"),
    ("b4", "b6", 0.45, "b7"), ("E62", "E44", 0.15, "b8"), ("b8", "E49", 0.20, "b9"),
    ("b9", "E19", 0.25, "b10"), ("b10", "E61", 0.35, "b11"), ("b7", "b11", 0.51, "b12"),
    ("E51", "E36", 0.22, "b13"), ("b13", "E63", 0.28, "b14"), ("E32", "E25", 0.30, "b15"),
    ("b15", "E16", 0.37, "b16"), ("b14", "b16", 0.58, "b17"), ("b12", "b17", 0.76, "b18"),
    ("E13", "E12", 0.35, "b19"), ("b18", "b19", 0.81, "b20"), ("E46", "E39", 0.42, "b21"),
    ("E56", "E52", 0.17, "b22"), ("b22", "E57", 0.32, "b23"), ("b21", "b23", 0.53, "b24"),
    ("E33", "E22", 0.28, "b25"), ("b25", "E18", 0.37, "b26"), ("E26", "E5", 0.25, "b27"),
    ("E23", "E6", 0.20, "b28"), ("E24", "E17", 0.17, "b29"), ("b28", "b29", 0.24, "b30"),
    ("b30", "E3", 0.28, "b31"), ("b27", "b31", 0.35, "b32"), ("b26", "b32", 0.42, "b33"),
    ("E21", "E1", 0.18, "b34"), ("b34", "E4", 0.28, "b35"), ("b33", "b35", 0.45, "b36"),
    ("E27", "E8", 0.18, "b37"), ("b37", "E10", 0.37, "b38"), ("E31", "E7", 0.32, "b39"),
    ("b38", "b39", 0.45, "b40"), ("E20", "E14", 0.28, "b41"), ("b41", "E15", 0.30, "b42"),
    ("b40", "b42", 0.48, "b43"), ("b36", "b43", 0.70, "b44"), ("b24", "b44", 0.78, "b45"),
    ("b20", "b45", 0.84, "b46"), ("E55", "E37", 0.37, "c1"), ("E58", "E54", 0.20, "c2"),
    ("c1", "c2", 0.45, "c3"), ("E42", "E34", 0.22, "c4"), ("c4", "E47", 0.25, "c5"),
    ("E41", "E40", 0.15, "c6"), ("c6", "E43", 0.20, "c7"), ("c5", "c7", 0.27, "c8"),
    ("E53", "E45", 0.20, "c9"), ("c8", "c9", 0.35, "c10"), ("c3", "c10", 0.53, "c11"),
    ("b46", "c11", 0.86, "c12"), ("E38", "E9", 0.49, "d1"), ("d1", "E11", 0.64, "d2"),
    ("c12", "d2", 0.93, "d3"), ("d3", "E28", 1.00, "root"),
]

# ---------------- layout constants ----------------
SANS = "Liberation Sans"
SERIF = "Liberation Serif"
TITLE_SIZE = 29


def long_table(samples, comp, taxa):
    rows = []
    for s in samples:
        for idx, v in comp[s].items():
            rows.append({"sample": s, "taxon": taxa[idx], "idx": idx, "value": v})
    return pd.DataFrame(rows)


def dendro_segments(samples, merges):
    pos = {s: (0.0, float(i)) for i, s in enumerate(samples)}
    segs = []
    for c1, c2, h, name in merges:
        h1, y1 = pos[c1]
        h2, y2 = pos[c2]
        segs.append({"x": h1, "x2": h, "y": y1, "y2": y1})
        segs.append({"x": h2, "x2": h, "y": y2, "y2": y2})
        segs.append({"x": h, "x2": h, "y": y1, "y2": y2})
        pos[name] = (h, (y1 + y2) / 2)
    return pd.DataFrame(segs)


def dendro_chart(samples, merges, xdomain, width, height, label_x, tag, tag_x, tag_y, toff, tdx):
    yscale = alt.Scale(domain=[-0.5, len(samples) - 0.5], reverse=True, nice=False, zero=False)
    xscale = alt.Scale(domain=xdomain, nice=False, zero=False)
    lines = alt.Chart(dendro_segments(samples, merges)).mark_rule(
        color="black", strokeWidth=1.3).encode(
        x=alt.X("x:Q", scale=xscale, axis=None),
        x2="x2:Q",
        y=alt.Y("y:Q", scale=yscale, axis=None),
        y2="y2:Q")
    labels = alt.Chart(pd.DataFrame({"sample": samples, "row": list(range(len(samples)))})).mark_text(
        align="left", baseline="middle", fontSize=13.5, font=SANS, color="black").encode(
        x=alt.value(label_x),
        y=alt.Y("row:Q", scale=yscale, axis=None),
        text="sample:N")
    tagc = alt.Chart(pd.DataFrame({"t": [tag]})).mark_text(
        align="center", baseline="middle", fontSize=46, font=SERIF, fontWeight="bold", color="black").encode(
        x=alt.value(tag_x), y=alt.value(tag_y), text="t:N")
    return alt.layer(lines, labels, tagc).properties(
        width=width, height=height,
        title=alt.TitleParams("similarity", anchor="start", fontSize=TITLE_SIZE, font=SANS,
                               fontWeight="bold", color="black", offset=toff, dx=tdx))


def bar_chart(samples, comp, taxa, width, height, legend_x, legend_y, row_pad, field, toff,
              lab_pad, tit_pad):
    df = long_table(samples, comp, taxa).rename(columns={"taxon": field})
    return alt.Chart(df).mark_bar(stroke="#262626", strokeWidth=0.6).encode(
        x=alt.X("value:Q", stack="normalize",
                scale=alt.Scale(domain=[0, 1], nice=False),
                axis=alt.Axis(values=[0, 0.2, 0.4, 0.6, 0.8, 1.0], labelExpr="datum.value * 100",
                              title="Percentage", offset=16, grid=False, tickSize=8, tickColor="black",
                              domainColor="black", labelColor="black", labelFont=SANS, labelFontSize=17,
                              labelPadding=lab_pad, titleFont=SANS, titleFontSize=21,
                              titleFontWeight="normal", titleColor="black", titlePadding=tit_pad,
                              labelFlush=False)),
        y=alt.Y("sample:N", sort=samples, axis=None,
                scale=alt.Scale(paddingInner=0.12, paddingOuter=0.06)),
        color=alt.Color(f"{field}:N", scale=alt.Scale(domain=taxa, range=palette),
                        legend=alt.Legend(orient="none", legendX=legend_x, legendY=legend_y, title=None,
                                          direction="vertical", columns=1, symbolType="square",
                                          symbolSize=170, symbolStrokeColor="black", symbolStrokeWidth=1.2,
                                          symbolOpacity=1, labelFont=SERIF, labelFontStyle="italic",
                                          labelFontSize=18, labelColor="black", labelOffset=14,
                                          rowPadding=row_pad, padding=0, symbolLimit=100, labelLimit=500)),
        order=alt.Order("idx:Q", sort="ascending"),
    ).properties(
        width=width, height=height,
        view=alt.ViewBackground(fill="#c4c4c4", stroke=None),
        title=alt.TitleParams("Taxonomic composition", anchor="middle", fontSize=TITLE_SIZE, font=SANS,
                              fontWeight="bold", color="black", offset=toff))


H_A, H_B = 1062, 1054
dend_a = dendro_chart(samples_a, merges_a, [80 / 44, (80 - 137) / 44], 137, H_A, 86, "(a)", 44, H_A + 31, 6, 0)
bars_a = bar_chart(samples_a, comp_a, taxa_a, 511, H_A, 530, 20, 2.9, "taxon_a", 6, 5, 13)
dend_b = dendro_chart(samples_b, merges_b, [91 / 42, (91 - 157) / 42], 157, H_B, 100, "(b)", 52, H_B + 34, 10, 8)
bars_b = bar_chart(samples_b, comp_b, taxa_b, 507, H_B, 523, 23, 2.7, "taxon_b", 10, 7, 18)

chart = alt.hconcat(dend_a, bars_a, dend_b, bars_b, spacing=0).resolve_scale(
    color="independent", x="independent", y="independent"
).configure_view(stroke=None).properties(background="white", padding=0)

chart.save("out.html", embed_options={"renderer": "svg", "actions": False})
